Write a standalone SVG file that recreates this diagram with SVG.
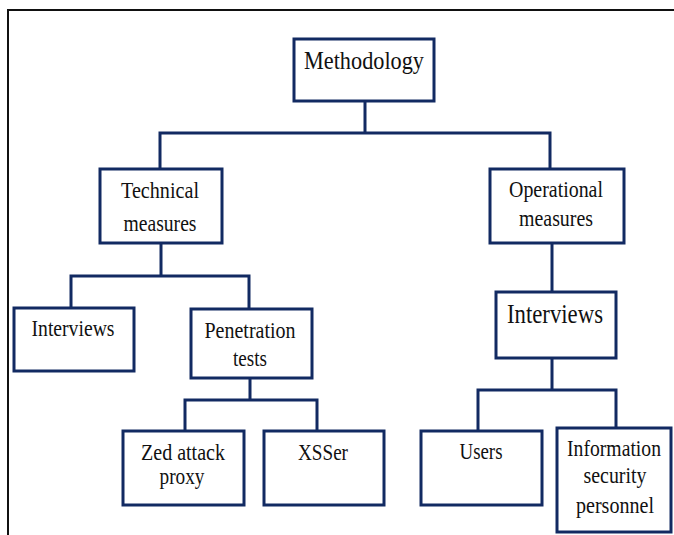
<svg xmlns="http://www.w3.org/2000/svg" width="674" height="535" viewBox="0 0 674 535">
<style>
.box{fill:#fff;stroke:#122a62;stroke-width:3}
.ln{fill:none;stroke:#122a62;stroke-width:3;stroke-linejoin:miter}
.t{font-family:"Liberation Serif","Times New Roman",serif;font-size:24px;fill:#111;text-anchor:middle}
.frame{fill:none;stroke:#111;stroke-width:2}
</style>
<rect width="674" height="535" fill="#fff"/>
<path class="frame" d="M8,535 V10 H675"/>
<g id="connectors">
<path class="ln" d="M365,101 V133 M160,169 V133 H550 V169"/>
<path class="ln" d="M161,243 V276 M71,308 V276 H249 V309"/>
<path class="ln" d="M250,378 V400 M185,431 V400 H317 V431"/>
<path class="ln" d="M552,243 V292"/>
<path class="ln" d="M552,358 V390 M478,431 V390 H616 V428"/>
</g>
<g id="methodology"><rect class="box" x="294" y="39" width="140" height="62"/><text class="t" x="364" y="69" style="font-size:25px" textLength="120" lengthAdjust="spacingAndGlyphs">Methodology</text></g>
<g id="technical"><rect class="box" x="100" y="169" width="122" height="74"/><text class="t" x="160" y="198" textLength="78" lengthAdjust="spacingAndGlyphs">Technical</text><text class="t" x="160" y="231" textLength="73" lengthAdjust="spacingAndGlyphs">measures</text></g>
<g id="operational"><rect class="box" x="490" y="169" width="134" height="74"/><text class="t" x="556" y="197" textLength="94" lengthAdjust="spacingAndGlyphs">Operational</text><text class="t" x="556" y="226" textLength="74" lengthAdjust="spacingAndGlyphs">measures</text></g>
<g id="interviews-tech"><rect class="box" x="14" y="308" width="120" height="63"/><text class="t" x="73" y="336" textLength="83" lengthAdjust="spacingAndGlyphs">Interviews</text></g>
<g id="penetration"><rect class="box" x="191" y="309" width="121" height="69"/><text class="t" x="250" y="338" textLength="91" lengthAdjust="spacingAndGlyphs">Penetration</text><text class="t" x="250" y="366" textLength="34" lengthAdjust="spacingAndGlyphs">tests</text></g>
<g id="zap"><rect class="box" x="123" y="431" width="121" height="74"/><text class="t" x="183" y="460" textLength="84" lengthAdjust="spacingAndGlyphs">Zed attack</text><text class="t" x="182" y="484" textLength="45" lengthAdjust="spacingAndGlyphs">proxy</text></g>
<g id="xsser"><rect class="box" x="264" y="431" width="120" height="74"/><text class="t" x="323" y="460" textLength="50" lengthAdjust="spacingAndGlyphs">XSSer</text></g>
<g id="interviews-op"><rect class="box" x="496" y="292" width="120" height="66"/><text class="t" x="555" y="323" style="font-size:27px" textLength="96" lengthAdjust="spacingAndGlyphs">Interviews</text></g>
<g id="users"><rect class="box" x="421" y="431" width="121" height="74"/><text class="t" x="481" y="459" textLength="43" lengthAdjust="spacingAndGlyphs">Users</text></g>
<g id="infosec"><rect class="box" x="557" y="428" width="114" height="104"/><text class="t" transform="translate(614,456) scale(0.82,1)">Information</text><text class="t" x="615" y="483" textLength="63" lengthAdjust="spacingAndGlyphs">security</text><text class="t" x="615" y="513" textLength="78" lengthAdjust="spacingAndGlyphs">personnel</text></g>
</svg>
